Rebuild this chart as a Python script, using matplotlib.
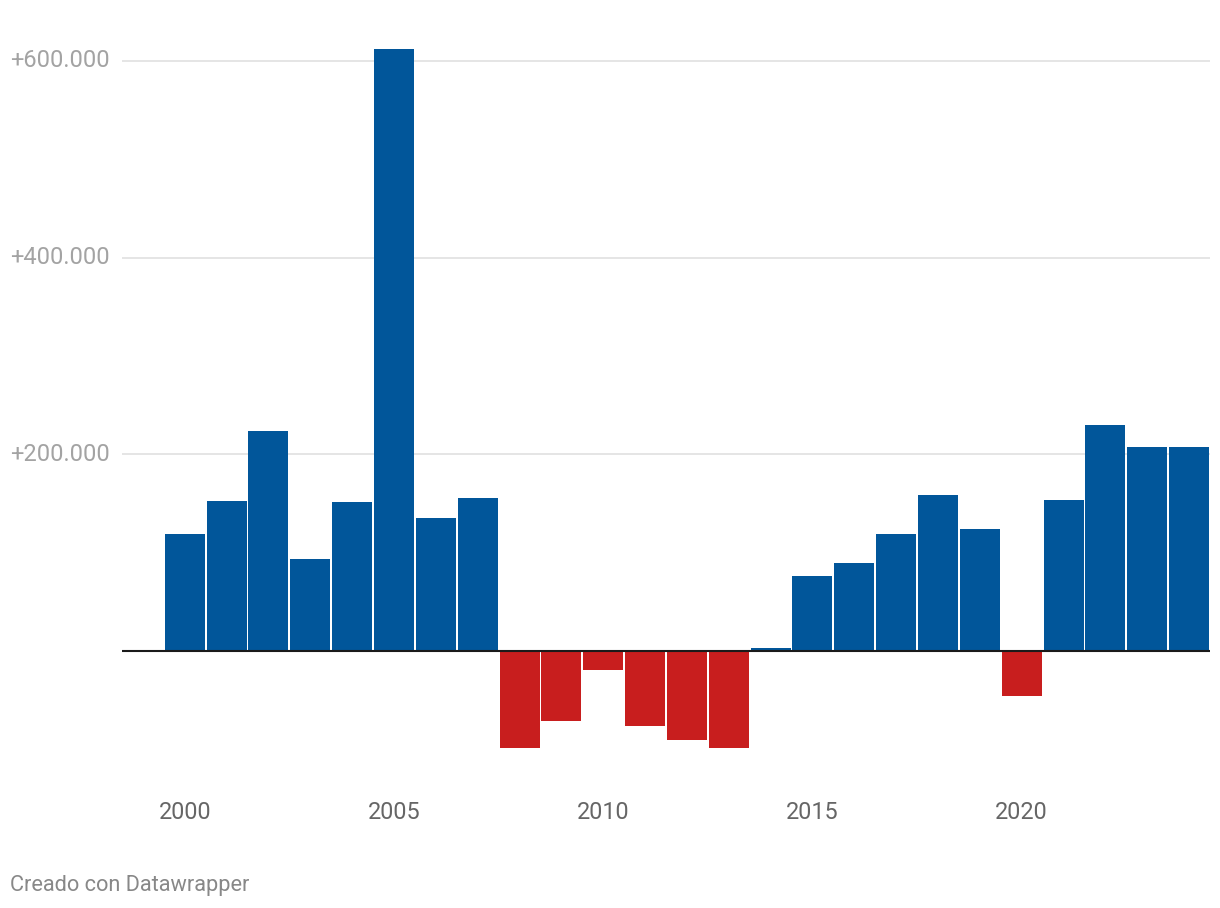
import matplotlib.pyplot as plt

years = list(range(2000, 2025))
values = [118300, 152300, 224000, 92900, 151300, 612000, 134600, 155900,
          -99000, -71000, -19500, -77000, -90500, -99000, 2500,
          75600, 88800, 118300, 158000, 123400, -46000,
          152900, 230000, 207800, 207800]
grid_values = [200000, 400000, 600000]
grid_labels = ["+200.000", "+400.000", "+600.000"]
year_ticks = [2000, 2005, 2010, 2015, 2020]

blue = "#01569a"
red = "#c81e1e"

plt.rcParams['font.family'] = ['Roboto', 'DejaVu Sans']

fig = plt.figure(figsize=(12.2, 9.08), dpi=100)
ax = fig.add_axes([122 / 1220, 126.5 / 908, 1088 / 1220, 750 / 908])

colors = [blue if v >= 0 else red for v in values]
ax.bar(years, values, width=0.955, color=colors, zorder=2)

# gridlines + inline labels
for g, lab in zip(grid_values, grid_labels):
    ax.axhline(g, color="#e3e3e3", lw=1.3, zorder=1)
    ax.text(-0.103, g, lab, transform=ax.get_yaxis_transform(),
            ha="left", va="center", fontsize=17, color="#a3a3a3")

ax.axhline(0, color="#1a1a1a", lw=1.5, zorder=3)

ax.set_xlim(1998.5, 2024.5)
ax.set_ylim(-133000, 630000)
ax.set_yticks([])
ax.set_xticks(year_ticks)
ax.set_xticklabels([str(y) for y in year_ticks], fontsize=16.8, color="#666666")
ax.tick_params(axis="x", length=0, pad=14)
for s in ax.spines.values():
    s.set_visible(False)

fig.text(10 / 1220, 1 - 885 / 908, "Creado con Datawrapper", ha="left",
         va="center", fontsize=15.7, color="#888888")

fig.savefig("out.png", dpi=100, facecolor="white")
